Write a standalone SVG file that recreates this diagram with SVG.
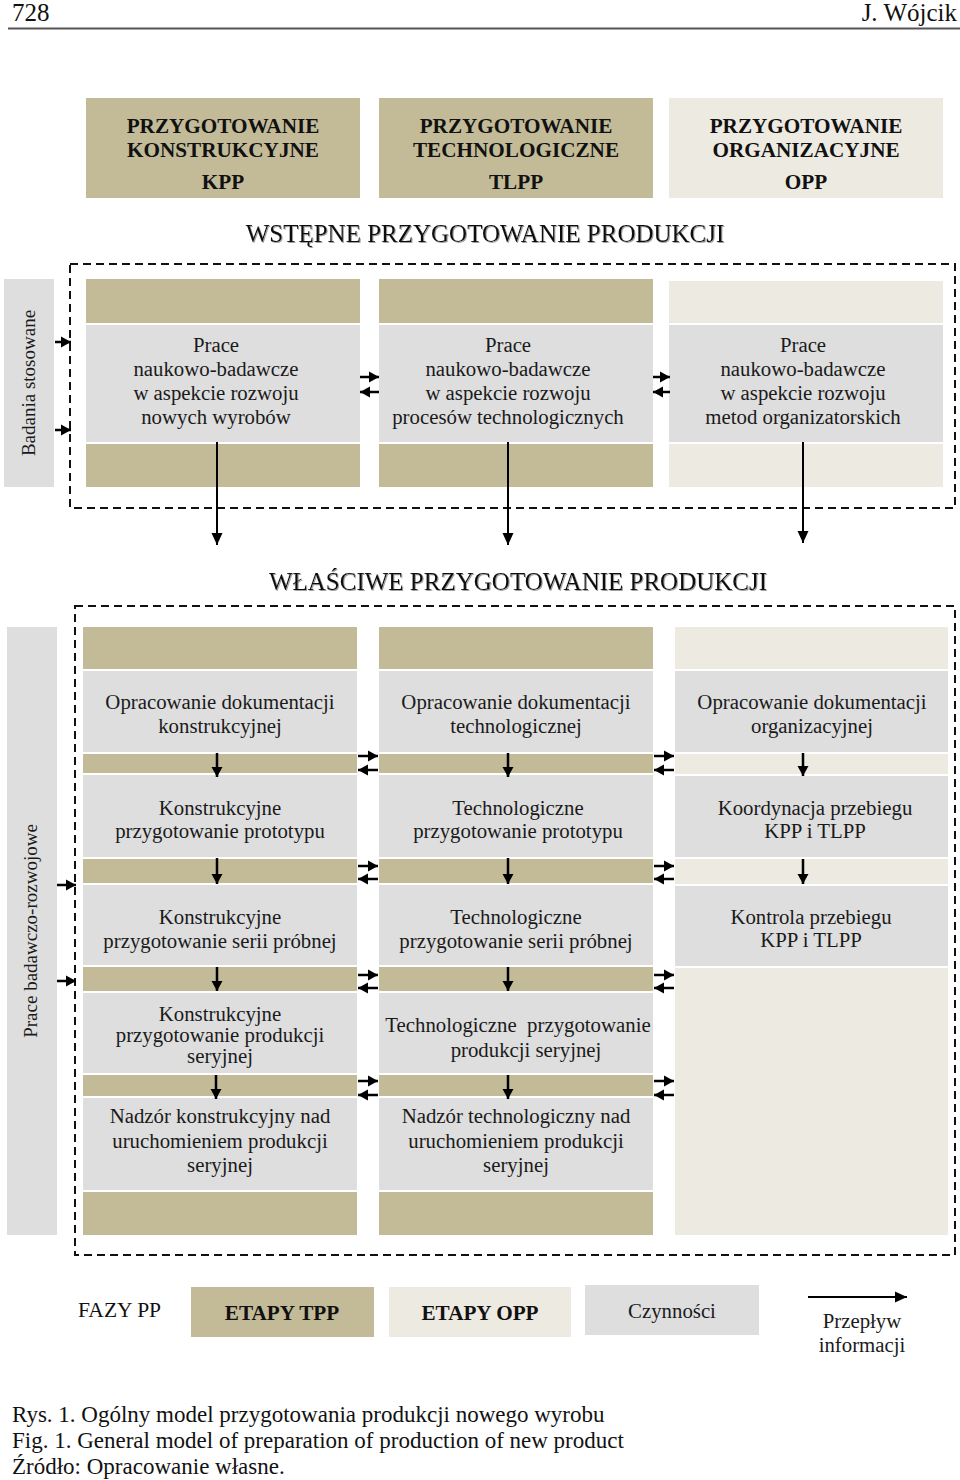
<svg xmlns="http://www.w3.org/2000/svg" width="960" height="1480" viewBox="0 0 960 1480">
<defs>
<style>
text{font-family:"Liberation Serif","Times New Roman",serif;fill:#111;}
.t{font-size:20.8px;text-anchor:middle;fill:#1a1a1a;}
.rl{font-size:19px;text-anchor:middle;fill:#1a1a1a;}
.hb{font-size:21.2px;font-weight:bold;text-anchor:middle;}
.ttl{font-size:25px;text-anchor:middle;filter:url(#sh);}
.cap{font-size:23px;}
.tan{fill:#c3bb98;}
.lt{fill:#edebe1;}
.gr{fill:#dedede;}
.dash{fill:none;stroke:#111;stroke-width:2;stroke-dasharray:8 5;}
.ar{stroke:#000;stroke-width:2;fill:none;marker-end:url(#ah);}
.as{stroke:#000;stroke-width:2.5;fill:none;marker-end:url(#ahs);}
</style>
<marker id="ah" markerUnits="userSpaceOnUse" markerWidth="12" markerHeight="12" refX="12" refY="6" orient="auto"><path d="M0,0.5 L12,6 L0,11.5 z" fill="#000"/></marker>
<marker id="ahs" markerUnits="userSpaceOnUse" markerWidth="10" markerHeight="12" refX="10" refY="6" orient="auto"><path d="M0,0.5 L10,6 L0,11.5 z" fill="#000"/></marker>
<filter id="sh" x="-5%" y="-20%" width="110%" height="140%"><feDropShadow dx="1" dy="1" stdDeviation="0.6" flood-color="#888" flood-opacity="0.8"/></filter>
</defs>
<rect width="960" height="1480" fill="#fff"/>

<g id="page-header">
<text x="12" y="21" style="font-size:25px">728</text>
<text x="957" y="21" style="font-size:25px;text-anchor:end">J. Wójcik</text>
<line x1="8" y1="28.5" x2="960" y2="28.5" stroke="#555" stroke-width="2"/>
</g>

<g id="hdr-kpp"><rect class="tan" x="86" y="98" width="274" height="100"/>
<text class="hb" x="223" y="133">PRZYGOTOWANIE</text><text class="hb" x="223" y="157">KONSTRUKCYJNE</text><text class="hb" x="223" y="189">KPP</text></g>
<g id="hdr-tlpp"><rect class="tan" x="379" y="98" width="274" height="100"/>
<text class="hb" x="516" y="133">PRZYGOTOWANIE</text><text class="hb" x="516" y="157">TECHNOLOGICZNE</text><text class="hb" x="516" y="189">TLPP</text></g>
<g id="hdr-opp"><rect class="lt" x="669" y="98" width="274" height="100"/>
<text class="hb" x="806" y="133">PRZYGOTOWANIE</text><text class="hb" x="806" y="157">ORGANIZACYJNE</text><text class="hb" x="806" y="189">OPP</text></g>

<g id="title-wstepne"><text class="ttl" x="485" y="242">WSTĘPNE PRZYGOTOWANIE PRODUKCJI</text></g>

<g id="frame-wstepne"><rect class="dash" x="70" y="264" width="885" height="244"/></g>

<g id="label-badania"><rect class="gr" x="4" y="279" width="50" height="208"/>
<text class="rl" transform="translate(35,383) rotate(-90)">Badania stosowane</text></g>

<g id="w-col1"><rect class="tan" x="86" y="279" width="274" height="44"/><rect class="gr" x="86" y="325" width="274" height="117"/><rect class="tan" x="86" y="444" width="274" height="43"/>
<text class="t" x="216" y="352">Prace</text><text class="t" x="216" y="376">naukowo-badawcze</text><text class="t" x="216" y="400">w aspekcie rozwoju</text><text class="t" x="216" y="424">nowych wyrobów</text></g>
<g id="w-col2"><rect class="tan" x="379" y="279" width="274" height="44"/><rect class="gr" x="379" y="325" width="274" height="117"/><rect class="tan" x="379" y="444" width="274" height="43"/>
<text class="t" x="508" y="352">Prace</text><text class="t" x="508" y="376">naukowo-badawcze</text><text class="t" x="508" y="400">w aspekcie rozwoju</text><text class="t" x="508" y="424">procesów technologicznych</text></g>
<g id="w-col3"><rect class="lt" x="669" y="281" width="274" height="42"/><rect class="gr" x="669" y="325" width="274" height="117"/><rect class="lt" x="669" y="444" width="274" height="43"/>
<text class="t" x="803" y="352">Prace</text><text class="t" x="803" y="376">naukowo-badawcze</text><text class="t" x="803" y="400">w aspekcie rozwoju</text><text class="t" x="803" y="424">metod organizatorskich</text></g>

<g id="title-wlasciwe"><text class="ttl" x="518" y="590">WŁAŚCIWE PRZYGOTOWANIE PRODUKCJI</text></g>

<g id="frame-wlasciwe"><rect class="dash" x="75" y="606" width="880" height="649"/></g>

<g id="label-prace"><rect class="gr" x="7" y="627" width="50" height="608"/>
<text class="rl" transform="translate(37,931) rotate(-90)">Prace badawczo-rozwojowe</text></g>

<g id="m-col1">
<rect class="tan" x="83" y="627" width="274" height="42"/>
<rect class="gr" x="83" y="671" width="274" height="81"/>
<rect class="tan" x="83" y="754" width="274" height="19"/>
<rect class="gr" x="83" y="775" width="274" height="82"/>
<rect class="tan" x="83" y="859" width="274" height="24"/>
<rect class="gr" x="83" y="885" width="274" height="80"/>
<rect class="tan" x="83" y="967" width="274" height="24"/>
<rect class="gr" x="83" y="993" width="274" height="80"/>
<rect class="tan" x="83" y="1075" width="274" height="21"/>
<rect class="gr" x="83" y="1098" width="274" height="92"/>
<rect class="tan" x="83" y="1192" width="274" height="43"/>
<text class="t" x="220" y="709">Opracowanie dokumentacji</text><text class="t" x="220" y="733">konstrukcyjnej</text>
<text class="t" x="220" y="815">Konstrukcyjne</text><text class="t" x="220" y="838">przygotowanie prototypu</text>
<text class="t" x="220" y="924">Konstrukcyjne</text><text class="t" x="220" y="948">przygotowanie serii próbnej</text>
<text class="t" x="220" y="1021">Konstrukcyjne</text><text class="t" x="220" y="1042">przygotowanie produkcji</text><text class="t" x="220" y="1063">seryjnej</text>
<text class="t" x="220" y="1123">Nadzór konstrukcyjny nad</text><text class="t" x="220" y="1148">uruchomieniem produkcji</text><text class="t" x="220" y="1172">seryjnej</text>
</g>

<g id="m-col2">
<rect class="tan" x="379" y="627" width="274" height="42"/>
<rect class="gr" x="379" y="671" width="274" height="81"/>
<rect class="tan" x="379" y="754" width="274" height="19"/>
<rect class="gr" x="379" y="775" width="274" height="82"/>
<rect class="tan" x="379" y="859" width="274" height="24"/>
<rect class="gr" x="379" y="885" width="274" height="80"/>
<rect class="tan" x="379" y="967" width="274" height="24"/>
<rect class="gr" x="379" y="993" width="274" height="80"/>
<rect class="tan" x="379" y="1075" width="274" height="21"/>
<rect class="gr" x="379" y="1098" width="274" height="92"/>
<rect class="tan" x="379" y="1192" width="274" height="43"/>
<text class="t" x="516" y="709">Opracowanie dokumentacji</text><text class="t" x="516" y="733">technologicznej</text>
<text class="t" x="518" y="815">Technologiczne</text><text class="t" x="518" y="838">przygotowanie prototypu</text>
<text class="t" x="516" y="924">Technologiczne</text><text class="t" x="516" y="948">przygotowanie serii próbnej</text>
<text class="t" x="518" y="1032" xml:space="preserve">Technologiczne  przygotowanie</text><text class="t" x="526" y="1057">produkcji seryjnej</text>
<text class="t" x="516" y="1123">Nadzór technologiczny nad</text><text class="t" x="516" y="1148">uruchomieniem produkcji</text><text class="t" x="516" y="1172">seryjnej</text>
</g>

<g id="m-col3">
<rect class="lt" x="675" y="627" width="273" height="42"/>
<rect class="gr" x="675" y="671" width="273" height="81"/>
<rect class="lt" x="675" y="754" width="273" height="20"/>
<rect class="gr" x="675" y="776" width="273" height="81"/>
<rect class="lt" x="675" y="859" width="273" height="25"/>
<rect class="gr" x="675" y="886" width="273" height="80"/>
<rect class="lt" x="675" y="968" width="273" height="267"/>
<text class="t" x="812" y="709">Opracowanie dokumentacji</text><text class="t" x="812" y="733">organizacyjnej</text>
<text class="t" x="815" y="815">Koordynacja przebiegu</text><text class="t" x="815" y="838">KPP i TLPP</text>
<text class="t" x="811" y="924">Kontrola przebiegu</text><text class="t" x="811" y="947">KPP i TLPP</text>
</g>

<g id="legend">
<text x="78" y="1317" style="font-size:21.5px">FAZY PP</text>
<rect class="tan" x="191" y="1287" width="183" height="50"/><text class="hb" x="282" y="1320">ETAPY TPP</text>
<rect class="lt" x="389" y="1287" width="182" height="50"/><text class="hb" x="480" y="1320">ETAPY OPP</text>
<rect class="gr" x="585" y="1285" width="174" height="50"/><text class="t" x="672" y="1318">Czynności</text>
<line class="ar" x1="808" y1="1297" x2="907" y2="1297"/>
<text class="t" x="862" y="1328">Przepływ</text><text class="t" x="862" y="1352">informacji</text>
</g>

<g id="caption">
<text class="cap" x="12" y="1422">Rys. 1. Ogólny model przygotowania produkcji nowego wyrobu</text>
<text class="cap" x="12" y="1448">Fig. 1. General model of preparation of production of new product</text>
<text class="cap" x="12" y="1474">Źródło: Opracowanie własne.</text>
</g>

<g id="connectors">
<line class="as" x1="55" y1="342" x2="71" y2="342"/>
<line class="as" x1="55" y1="430" x2="71" y2="430"/>
<line class="as" x1="360" y1="377" x2="379" y2="377"/>
<line class="as" x1="379" y1="392" x2="360" y2="392"/>
<line class="as" x1="653" y1="377" x2="670" y2="377"/>
<line class="as" x1="670" y1="392" x2="653" y2="392"/>
<line class="ar" x1="217" y1="442" x2="217" y2="545"/>
<line class="ar" x1="508" y1="442" x2="508" y2="545"/>
<line class="ar" x1="803" y1="442" x2="803" y2="543"/>

<line class="as" x1="57" y1="885" x2="76" y2="885"/>
<line class="as" x1="57" y1="981" x2="76" y2="981"/>

<line class="as" x1="358" y1="756" x2="378" y2="756"/><line class="as" x1="378" y1="770" x2="358" y2="770"/>
<line class="as" x1="358" y1="866" x2="378" y2="866"/><line class="as" x1="378" y1="879" x2="358" y2="879"/>
<line class="as" x1="358" y1="975" x2="378" y2="975"/><line class="as" x1="378" y1="988" x2="358" y2="988"/>
<line class="as" x1="358" y1="1081" x2="378" y2="1081"/><line class="as" x1="378" y1="1095" x2="358" y2="1095"/>

<line class="as" x1="654" y1="756" x2="674" y2="756"/><line class="as" x1="674" y1="770" x2="654" y2="770"/>
<line class="as" x1="654" y1="866" x2="674" y2="866"/><line class="as" x1="674" y1="879" x2="654" y2="879"/>
<line class="as" x1="654" y1="975" x2="674" y2="975"/><line class="as" x1="674" y1="988" x2="654" y2="988"/>
<line class="as" x1="654" y1="1081" x2="674" y2="1081"/><line class="as" x1="674" y1="1095" x2="654" y2="1095"/>

<line class="as" x1="217" y1="753" x2="217" y2="777"/>
<line class="as" x1="217" y1="858" x2="217" y2="884"/>
<line class="as" x1="217" y1="967" x2="217" y2="991"/>
<line class="as" x1="216" y1="1075" x2="216" y2="1099"/>
<line class="as" x1="508" y1="753" x2="508" y2="777"/>
<line class="as" x1="508" y1="858" x2="508" y2="884"/>
<line class="as" x1="508" y1="967" x2="508" y2="991"/>
<line class="as" x1="508" y1="1075" x2="508" y2="1099"/>
<line class="as" x1="803" y1="753" x2="803" y2="776"/>
<line class="as" x1="803" y1="859" x2="803" y2="884"/>
</g>
</svg>
